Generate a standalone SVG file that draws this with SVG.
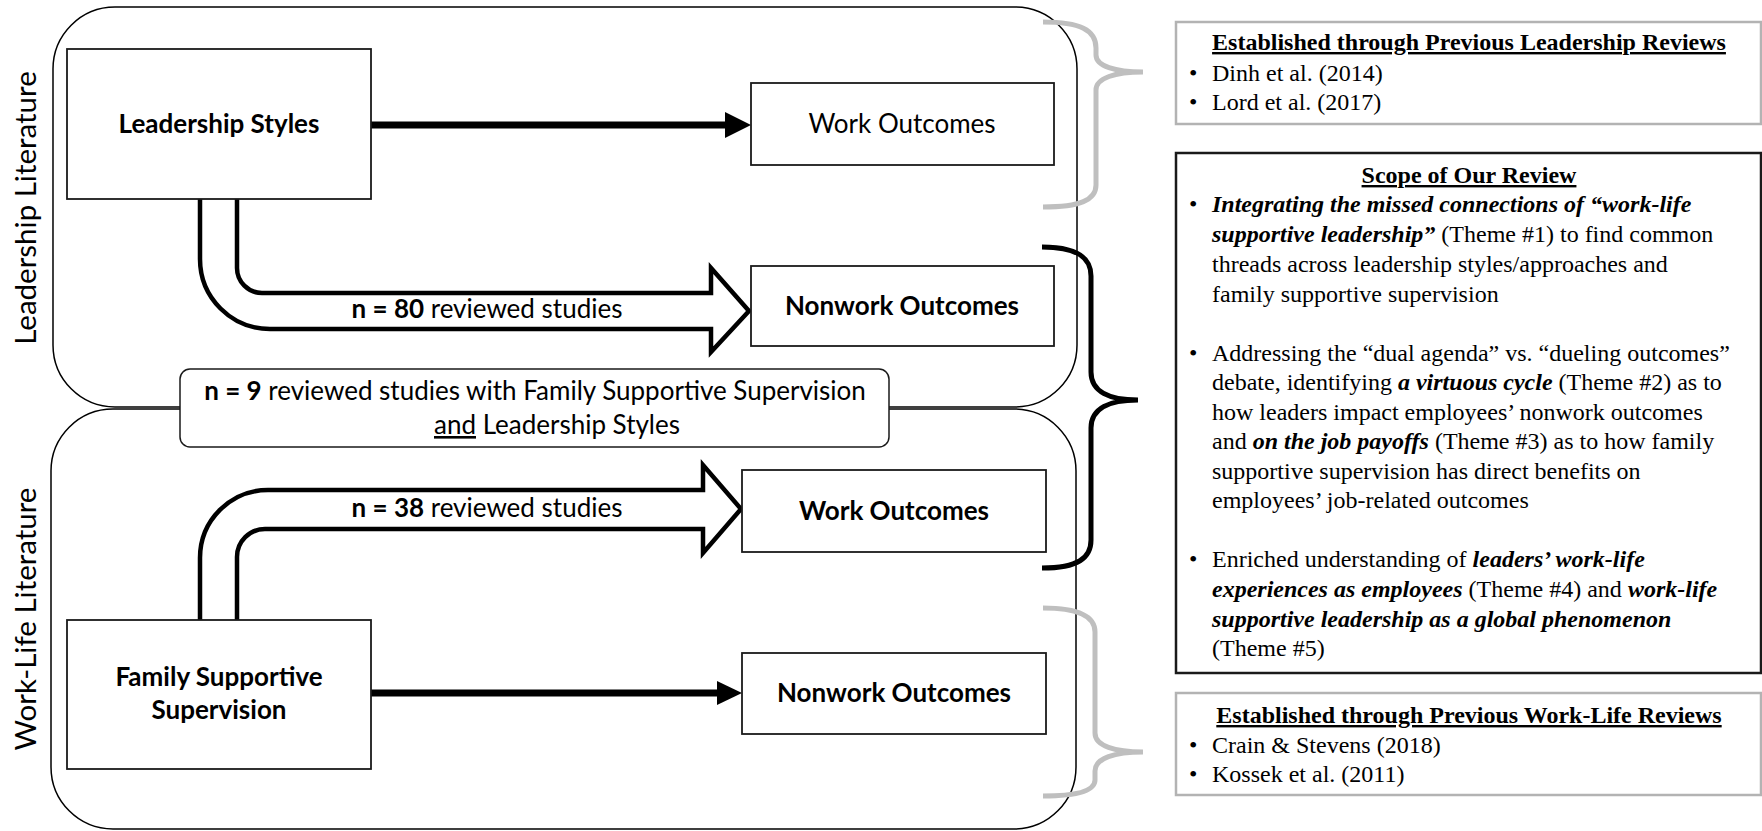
<svg xmlns="http://www.w3.org/2000/svg" width="1762" height="831" viewBox="0 0 1762 831">
<style>
.cal{font-family:Lato,"Open Sans","Liberation Sans",sans-serif;fill:#000}
.b{font-weight:bold}
.m{font-size:26px}
.vert{font-size:29.5px}
.tnr{font-family:"Liberation Serif","Times New Roman",serif;font-size:24px;fill:#000}
.bi{font-weight:bold;font-style:italic}
.u{text-decoration:underline}
.frame{fill:none;stroke:#000;stroke-width:1.5}
.box{fill:#fff;stroke:#1a1a1a;stroke-width:1.8}
.thick{stroke:#000;stroke-width:7;fill:none}
.head{fill:#000;stroke:none}
.block{fill:#fff;stroke:#000;stroke-width:4.5;stroke-linejoin:miter;stroke-miterlimit:10}
.gbrace{fill:none;stroke:#bfbfbf;stroke-width:5}
.kbrace{fill:none;stroke:#000;stroke-width:5}
.gpanel{fill:#fff;stroke:#b3b3b3;stroke-width:2.5}
.kpanel{fill:#fff;stroke:#1a1a1a;stroke-width:2.5}
</style>

<g id="frames">
  <rect id="leadership-frame" class="frame" x="53" y="7" width="1024" height="400" rx="62" ry="62"/>
  <rect id="worklife-frame" class="frame" x="51" y="409" width="1025" height="420" rx="62" ry="62"/>
  <text class="cal vert" transform="translate(36,208) rotate(-90)" text-anchor="middle">Leadership Literature</text>
  <text class="cal vert" transform="translate(36,619) rotate(-90)" text-anchor="middle">Work-Life Literature</text>
</g>

<g id="connectors">
  <line class="thick" x1="371" y1="125" x2="728" y2="125"/>
  <polygon class="head" points="725,112 751,125 725,138"/>
  <line class="thick" x1="371" y1="693" x2="720" y2="693"/>
  <polygon class="head" points="717,681 742,693 717,705"/>
  <path class="block" d="M200,199 L200,259 A70,70 0 0 0 270,329 L711,329 L711,352 L749,311 L711,268 L711,293 L262,293 A25,25 0 0 1 237,268 L237,199"/>
  <path class="block" d="M200,620 L200,558 A68,68 0 0 1 268,490 L703,490 L703,465 L741,509 L703,553 L703,529 L265,529 A28,28 0 0 0 237,557 L237,620"/>
  <text class="cal m" x="487" y="318" text-anchor="middle"><tspan class="b">n = 80</tspan> reviewed studies</text>
  <text class="cal m" x="487" y="517" text-anchor="middle"><tspan class="b">n = 38</tspan> reviewed studies</text>
</g>

<g id="node-leadership-styles">
  <rect class="box" x="67" y="49" width="304" height="150"/>
  <text class="cal m b" x="219" y="133" text-anchor="middle">Leadership Styles</text>
</g>
<g id="node-work-outcomes-top">
  <rect class="box" x="751" y="83" width="303" height="82"/>
  <text class="cal m" x="902" y="133" text-anchor="middle">Work Outcomes</text>
</g>
<g id="node-nonwork-outcomes-top">
  <rect class="box" x="751" y="266" width="303" height="80"/>
  <text class="cal m b" x="902" y="315" text-anchor="middle">Nonwork Outcomes</text>
</g>
<g id="node-overlap">
  <rect class="box" x="180" y="369" width="709" height="78" rx="10" ry="10" style="stroke-width:1.5"/>
  <text class="cal m" x="535" y="400" text-anchor="middle"><tspan class="b">n = 9</tspan> reviewed studies with Family Supportive Supervision</text>
  <text class="cal m" x="557" y="434" text-anchor="middle"><tspan class="u">and</tspan> Leadership Styles</text>
</g>
<g id="node-work-outcomes-bottom">
  <rect class="box" x="742" y="470" width="304" height="82"/>
  <text class="cal m b" x="894" y="520" text-anchor="middle">Work Outcomes</text>
</g>
<g id="node-fss">
  <rect class="box" x="67" y="620" width="304" height="149"/>
  <text class="cal m b" x="219" y="686" text-anchor="middle">Family Supportive</text>
  <text class="cal m b" x="219" y="719" text-anchor="middle">Supervision</text>
</g>
<g id="node-nonwork-outcomes-bottom">
  <rect class="box" x="742" y="653" width="304" height="81"/>
  <text class="cal m b" x="894" y="702" text-anchor="middle">Nonwork Outcomes</text>
</g>

<g id="braces">
  <path class="gbrace" d="M1043,22 C1080,22 1096,30 1096,48 L1096,55 C1096,66 1115,72 1143,72 C1115,72 1096,78 1096,90 L1096,185 C1096,200 1080,207 1043,207"/>
  <path class="kbrace" d="M1042,247 C1078,247 1091,258 1091,276 L1091,372 C1091,392 1110,400 1138,400 C1110,400 1091,408 1091,428 L1091,540 C1091,558 1078,568 1042,568"/>
  <path class="gbrace" d="M1043,608 C1080,608 1095,617 1095,632 L1095,733 C1095,746 1115,752 1143,752 C1115,752 1095,758 1095,771 L1095,780 C1095,790 1080,796 1043,796"/>
</g>

<g id="panel-leadership-reviews">
  <rect class="gpanel" x="1176" y="22" width="585" height="102"/>
  <text class="tnr b u" x="1469" y="50" text-anchor="middle">Established through Previous Leadership Reviews</text>
  <text class="tnr" x="1189" y="81">•</text><text class="tnr" x="1212" y="81">Dinh et al. (2014)</text>
  <text class="tnr" x="1189" y="110">•</text><text class="tnr" x="1212" y="110">Lord et al. (2017)</text>
</g>

<g id="panel-scope">
  <rect class="kpanel" x="1176" y="153" width="585" height="520"/>
  <text class="tnr b u" x="1469" y="183" text-anchor="middle">Scope of Our Review</text>
  <text class="tnr" x="1189" y="212">•</text>
  <text class="tnr" x="1212" y="212"><tspan class="bi">Integrating the missed connections of “work-life</tspan></text>
  <text class="tnr" x="1212" y="242"><tspan class="bi">supportive leadership”</tspan> (Theme #1) to find common</text>
  <text class="tnr" x="1212" y="272">threads across leadership styles/approaches and</text>
  <text class="tnr" x="1212" y="302">family supportive supervision</text>
  <text class="tnr" x="1189" y="361">•</text>
  <text class="tnr" x="1212" y="361">Addressing the “dual agenda” vs. “dueling outcomes”</text>
  <text class="tnr" x="1212" y="390">debate, identifying <tspan class="bi">a virtuous cycle</tspan> (Theme #2) as to</text>
  <text class="tnr" x="1212" y="420">how leaders impact employees’ nonwork outcomes</text>
  <text class="tnr" x="1212" y="449">and <tspan class="bi">on the job payoffs</tspan> (Theme #3) as to how family</text>
  <text class="tnr" x="1212" y="479">supportive supervision has direct benefits on</text>
  <text class="tnr" x="1212" y="508">employees’ job-related outcomes</text>
  <text class="tnr" x="1189" y="567">•</text>
  <text class="tnr" x="1212" y="567">Enriched understanding of <tspan class="bi">leaders’ work-life</tspan></text>
  <text class="tnr" x="1212" y="597"><tspan class="bi">experiences as employees</tspan> (Theme #4) and <tspan class="bi">work-life</tspan></text>
  <text class="tnr" x="1212" y="627"><tspan class="bi">supportive leadership as a global phenomenon</tspan></text>
  <text class="tnr" x="1212" y="656">(Theme #5)</text>
</g>

<g id="panel-worklife-reviews">
  <rect class="gpanel" x="1176" y="693" width="585" height="102"/>
  <text class="tnr b u" x="1469" y="723" text-anchor="middle">Established through Previous Work-Life Reviews</text>
  <text class="tnr" x="1189" y="753">•</text><text class="tnr" x="1212" y="753">Crain &amp; Stevens (2018)</text>
  <text class="tnr" x="1189" y="782">•</text><text class="tnr" x="1212" y="782">Kossek et al. (2011)</text>
</g>
</svg>
